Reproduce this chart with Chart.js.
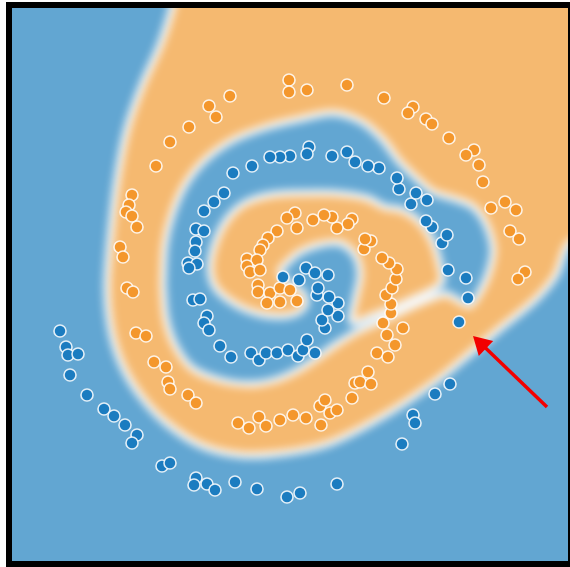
<!DOCTYPE html>
<html>
<head>
<meta charset="utf-8">
<script src="https://cdn.jsdelivr.net/npm/chart.js@4/dist/chart.umd.min.js"></script>
<style>
  html, body { margin: 0; padding: 0; background: #fff; }
  #frame { position: absolute; left: 6px; top: 2px; width: 556px; height: 553px; border: 6px solid #000; overflow: hidden; background: #62a6d2; }
  #field { position: absolute; left: -20px; top: -20px; filter: blur(4px); }
  #dots { position: absolute; left: 0; top: 0; }
</style>
</head>
<body>
<div id="frame">
  <canvas id="field" width="596" height="593"></canvas>
  <canvas id="dots" width="556" height="553"></canvas>
</div>
<script>
// points of class "blue" (x, y, y grows downward)
const bluePts = [
  [60,331],[66,347],[68,355],[78,354],[70,375],[87,395],[104,409],[114,416],[125,425],[137,435],
  [132,443],[162,466],[170,463],[196,478],[194,485],[207,484],[215,490],[235,482],[257,489],[287,497],
  [300,493],[337,484],[402,444],[413,415],[415,423],[435,394],[450,384],[459,322],[468,298],
  [466,278],[448,270],[442,243],[447,235],[432,227],[426,221],[411,204],[427,200],[416,193],[399,189],
  [397,178],[379,168],[368,166],[355,162],[347,152],[332,156],[309,147],[307,154],[290,156],[280,157],
  [270,157],[252,166],[233,173],[224,193],[214,202],[204,211],[196,229],[204,231],[196,242],[195,251],
  [188,263],[197,264],[189,268],
  [193,300],[200,299],[207,316],[204,323],[209,330],[220,346],[231,357],[251,353],[259,360],[266,353],
  [277,353],[288,350],[298,356],[303,350],[307,340],[315,353],
  [325,328],[322,320],[338,316],[328,310],[338,303],[329,297],[317,295],[318,288],[299,280],[306,268],
  [315,273],[328,275],[283,277]
];

// points of class "orange"
const orangePts = [
  [230,96],[209,106],[216,117],[189,127],[170,142],[156,166],[132,195],[129,205],[126,212],[132,216],
  [137,227],[120,247],[123,257],[127,288],[133,292],[136,333],[146,336],[154,362],[166,367],[168,382],
  [170,389],[188,395],[196,403],[238,423],[249,428],[259,417],[266,426],[280,420],[293,415],[306,418],
  [321,425],[320,406],[325,400],[330,413],[337,410],[352,398],[355,383],[360,382],[371,384],[368,372],
  [377,353],[388,357],[395,345],[387,335],[403,328],[383,323],[391,313],[391,304],[386,295],[392,288],
  [396,279],[397,269],[389,263],[382,258],[364,249],[371,241],[365,239],[352,219],[348,224],[337,228],
  [332,217],[324,215],[313,220],[297,228],[295,213],[287,218],[277,231],[268,238],[263,245],[260,250],
  [247,259],[257,260],[247,266],[250,272],[260,270],[258,285],[258,292],[270,293],[280,288],[290,290],
  [267,303],[280,302],[297,301],
  [289,80],[289,92],[307,90],[347,85],[384,98],[413,107],[408,113],[426,119],[432,124],[449,138],
  [474,150],[466,155],[479,165],[483,182],[491,208],[505,202],[516,210],[510,231],[519,239],[525,272],
  [518,279]
];

// decision regions, outlines
const orangeOuter = [
  [178,-20],[172,8],[160,45],[143,83],[128,125],[119,167],[112,220],[107,285],[111,330],[122,365],
  [140,395],[165,422],[200,445],[240,455],[285,453],[330,443],[385,415],[435,382],[472,352],[502,327],
  [535,300],[556,275],[568,245],[600,220],[600,-20]
];
const blueBand = [
  [163,285],[165,245],[172,215],[185,185],[205,160],[233,140],[267,127],[300,119],[333,113],[362,122],
  [383,140],[398,160],[415,177],[433,192],[455,199],[472,206],[485,222],[493,248],[490,268],[482,288],
  [470,305],[458,300],[446,294],[432,298],[415,305],[398,313],[378,322],[358,331],[338,343],[318,357],
  [298,370],[275,380],[250,384],[220,380],[192,368],[175,345],[166,318]
];
const orangeInner = [
  [300,312],[285,316],[260,314],[235,304],[215,287],[210,267],[216,240],[228,218],[245,203],[270,195],
  [300,193],[333,193],[367,198],[385,207],[402,210],[420,222],[433,242],[440,265],[442,282],[432,290],
  [415,298],[395,307],[372,316],[352,322],[355,300],[360,275],[355,255],[340,243],[318,245],[300,252],
  [288,262],[280,272],[290,284],[302,292],[306,303]
];

// red arrow
const arrowTail = [547, 407];
const arrowTip = [473, 336];

const blueBg = '#62a6d2';
const orangeBg = '#f5b970';
const blueDot = '#1b7cc0';
const orangeDot = '#f4972c';
const arrowRed = '#f20000';

const toXY = pts => pts.map(([x, y]) => ({x, y}));

function region(pts, color, order) {
  return {
    data: toXY(pts.concat([pts[0]])),
    showLine: true,
    fill: 'shape',
    backgroundColor: color,
    borderColor: 'rgba(255,255,255,0.9)',
    borderWidth: 7,
    tension: 0.3,
    pointRadius: 0,
    order: order
  };
}

// background field (blurred by css)
new Chart(document.getElementById('field'), {
  type: 'scatter',
  data: {
    datasets: [
      region(orangeOuter, orangeBg, 3),
      region(blueBand, blueBg, 2),
      region(orangeInner, orangeBg, 1)
    ]
  },
  options: {
    responsive: false,
    animation: false,
    events: [],
    layout: { padding: 0, autoPadding: false },
    scales: {
      x: { type: 'linear', min: -8, max: 588, display: false },
      y: { type: 'linear', min: -12, max: 581, reverse: true, display: false }
    },
    plugins: { legend: { display: false }, tooltip: { enabled: false } }
  }
});

// arrow head sits just behind the tip
const headR = 12;
const dx = arrowTip[0] - arrowTail[0];
const dy = arrowTip[1] - arrowTail[1];
const len = Math.hypot(dx, dy);
const headCenter = { x: arrowTip[0] - dx / len * headR, y: arrowTip[1] - dy / len * headR };
const headAngle = Math.atan2(dx, -dy) * 180 / Math.PI;

function dots(pts, color) {
  return {
    data: toXY(pts),
    pointRadius: 6,
    pointBackgroundColor: color,
    pointBorderColor: 'rgba(255,255,255,0.85)',
    pointBorderWidth: 1.6
  };
}

new Chart(document.getElementById('dots'), {
  type: 'scatter',
  data: {
    datasets: [
      {
        data: [{x: headCenter.x, y: headCenter.y}],
        pointStyle: 'triangle',
        rotation: headAngle,
        pointRadius: headR,
        pointBackgroundColor: arrowRed,
        pointBorderWidth: 0
      },
      {
        data: [{x: arrowTail[0], y: arrowTail[1]}, headCenter],
        showLine: true,
        borderColor: arrowRed,
        borderWidth: 3.5,
        pointRadius: 0
      },
      dots(bluePts, blueDot),
      dots(orangePts, orangeDot)
    ]
  },
  options: {
    responsive: false,
    animation: false,
    events: [],
    layout: { padding: 0, autoPadding: false },
    scales: {
      x: { type: 'linear', min: 12, max: 568, display: false },
      y: { type: 'linear', min: 8, max: 561, reverse: true, display: false }
    },
    plugins: { legend: { display: false }, tooltip: { enabled: false } }
  }
});
</script>
</body>
</html>
